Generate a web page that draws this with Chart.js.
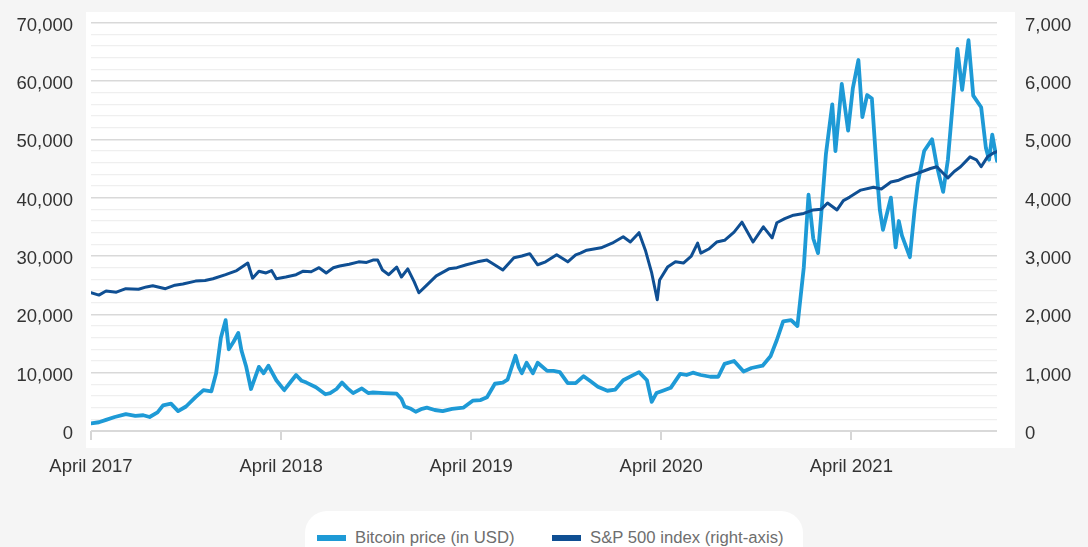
<!DOCTYPE html>
<html>
<head>
<meta charset="utf-8">
<script src="https://cdn.jsdelivr.net/npm/chart.js@4.4.1/dist/chart.umd.min.js"></script>
<style>
  body { margin: 0; background: #f5f5f5; font-family: "Liberation Sans", Arial, sans-serif; }
  #wrap { position: relative; width: 1088px; height: 547px; overflow: hidden; }
  #legend { position: absolute; left: 305px; top: 511px; width: 498px; height: 70px; background: #fff; border-radius: 22px; }
  .sw { position: absolute; top: 24px; width: 29px; height: 6px; }
  .lt { position: absolute; top: 17px; font-size: 16.7px; line-height: 20px; color: #6e6e6e; white-space: nowrap; }
</style>
</head>
<body>
<div id="wrap">
  <canvas id="chart" width="1088" height="547"></canvas>
  <div id="legend"></div>
</div>
<script>
// months counted from 1 April 2017
const btcMonths = [0,0.5,0.95,1.5,2.2,2.8,3.3,3.7,4.2,4.55,5.05,5.5,6,6.6,7.1,7.6,7.9,8.2,8.5,8.7,9,9.3,9.5,9.8,10.1,10.6,10.9,11.2,11.7,12.2,12.6,12.95,13.3,13.6,14.2,14.8,15.1,15.5,15.85,16.2,16.55,17.1,17.5,17.8,18.5,19.3,19.6,19.8,20.2,20.5,20.9,21.2,21.7,22.2,22.8,23.5,24.1,24.6,25,25.5,26,26.3,26.8,27,27.2,27.5,27.9,28.2,28.8,29.2,29.6,30.1,30.6,31.1,31.5,32,32.6,33.1,33.6,34.1,34.6,35.1,35.4,35.7,36.1,36.6,37.2,37.6,38,38.5,39.1,39.6,40,40.6,41.2,41.7,42.4,42.9,43.3,43.7,44.2,44.6,44.8,45,45.3,45.6,45.9,46.1,46.4,46.8,47,47.4,47.8,48.1,48.45,48.7,49,49.3,49.65,49.8,50,50.5,50.8,51,51.2,51.7,52,52.2,52.6,53.1,53.4,53.8,54.1,54.4,54.7,55,55.4,55.7,56.2,56.5,56.7,56.9,57.2];
const btcPrice = [1300,1500,1900,2400,2900,2600,2700,2400,3200,4400,4700,3400,4200,5800,7000,6800,9900,16000,19000,14000,15300,16800,13800,11000,7200,11000,9900,11200,8700,7000,8400,9600,8600,8300,7500,6300,6500,7200,8300,7300,6500,7300,6500,6600,6500,6400,5500,4200,3800,3300,3800,4000,3600,3400,3800,4000,5200,5300,5800,8100,8300,8800,12900,11000,9900,11700,9900,11700,10300,10300,10100,8200,8200,9400,8600,7600,6900,7100,8700,9400,10100,8700,5000,6500,6900,7400,9800,9600,10000,9600,9300,9300,11500,12000,10200,10800,11200,12800,15600,18800,19000,18000,23000,28000,40500,33000,30500,37000,47500,56000,48000,59500,51500,58800,63600,53800,57600,57000,43000,38000,34500,40000,31500,36000,33500,29800,38000,42500,48000,50000,45500,41000,46500,56000,65500,58500,67000,57500,55500,48500,46500,50800,46300];

const spxMonths = [0,0.5,0.95,1.6,2.2,3,3.5,3.9,4.7,5.3,5.8,6.6,7.2,7.7,8.5,9.2,9.9,10.2,10.6,11.05,11.4,11.7,12.3,12.95,13.4,13.9,14.4,14.85,15.3,15.7,16.3,16.9,17.4,17.8,18.1,18.4,18.8,19.3,19.6,20,20.4,20.7,21.2,21.8,22.6,23.1,23.7,24.4,25,25.3,26,26.7,27.2,27.7,28.2,28.7,29.4,30.1,30.6,30.9,31.3,32.2,32.9,33.6,34.05,34.6,35,35.4,35.75,35.9,36.4,36.9,37.4,37.9,38.3,38.5,39,39.5,40,40.6,41.1,41.8,42.45,43,43.3,43.8,44.35,45,45.6,46.1,46.5,47.1,47.5,47.9,48.6,49.4,49.9,50.5,51,51.5,52,52.4,53,53.4,53.8,54.1,54.5,54.9,55.5,55.9,56.2,56.6,57,57.2];
const spxIndex = [2370,2330,2400,2380,2440,2430,2470,2490,2440,2500,2520,2570,2580,2610,2680,2750,2880,2620,2740,2710,2750,2610,2640,2680,2740,2730,2800,2710,2800,2830,2860,2900,2890,2930,2930,2760,2680,2810,2640,2780,2560,2370,2500,2660,2780,2800,2850,2900,2930,2880,2760,2970,3000,3040,2850,2900,3020,2900,3020,3050,3100,3140,3220,3330,3240,3400,3100,2710,2250,2590,2810,2900,2880,3000,3220,3050,3120,3240,3270,3410,3580,3240,3500,3310,3570,3640,3700,3730,3790,3800,3910,3790,3950,4010,4130,4180,4150,4270,4300,4360,4400,4440,4500,4530,4420,4340,4450,4530,4700,4650,4530,4700,4770,4790];

const tickMonths = [0, 12, 24, 36, 48];
const tickLabels = ['April 2017', 'April 2018', 'April 2019', 'April 2020', 'April 2021'];
const seriesNames = ['Bitcoin price (in USD)', 'S&P 500 index (right-axis)'];
const seriesColors = ['#1e9ad6', '#0f4f93'];

const toPoints = (xs, ys) => xs.map((x, i) => ({ x: x, y: ys[i] }));
const fmt = v => v.toLocaleString('en-US');
const axisFont = { family: '"Liberation Sans", Arial, sans-serif', size: 18.5 };

const panel = {
  id: 'panel',
  beforeDraw(chart) {
    const a = chart.chartArea, c = chart.ctx;
    c.save();
    c.fillStyle = '#ffffff';
    c.fillRect(a.left - 5, a.top - 10.7, a.right - a.left + 23, a.bottom - a.top + 27.7);
    c.restore();
  }
};

new Chart(document.getElementById('chart'), {
  type: 'line',
  data: {
    datasets: [{
      label: seriesNames[0],
      data: toPoints(btcMonths, btcPrice),
      borderColor: seriesColors[0],
      borderWidth: 3.8,
      yAxisID: 'y',
      order: 2
    }, {
      label: seriesNames[1],
      data: toPoints(spxMonths, spxIndex),
      borderColor: seriesColors[1],
      borderWidth: 3,
      yAxisID: 'y2',
      order: 1
    }]
  },
  options: {
    responsive: false,
    animation: false,
    parsing: false,
    layout: { padding: { top: 22.7, left: 0, right: 0, bottom: 0 } },
    elements: { point: { radius: 0 }, line: { tension: 0, borderJoinStyle: 'round', borderCapStyle: 'round' } },
    plugins: { legend: { display: false }, tooltip: { enabled: false } },
    scales: {
      x: {
        type: 'linear',
        min: 0,
        max: 57.2,
        afterBuildTicks: s => { s.ticks = tickMonths.map(v => ({ value: v })); },
        afterFit: s => { s.height = 116; },
        ticks: {
          autoSkip: false,
          maxRotation: 0,
          padding: 16,
          color: '#333',
          font: axisFont,
          callback: (v) => tickLabels[tickMonths.indexOf(v)]
        },
        grid: { drawOnChartArea: false, drawTicks: true, tickLength: 9, color: '#d6d6d6', lineWidth: 2 },
        border: { display: false }
      },
      y: {
        position: 'left',
        min: 0,
        max: 70000,
        afterFit: s => { s.width = 91; },
        ticks: {
          stepSize: 2000,
          autoSkip: false,
          padding: 4,
          labelOffset: 3,
          color: '#333',
          font: axisFont,
          callback: v => (v % 10000 === 0 ? fmt(v) : '')
        },
        grid: {
          drawTicks: true,
          tickLength: 14,
          tickColor: 'rgba(0,0,0,0)',
          color: c => (c.tick.value % 10000 === 0 ? '#d9d9d9' : '#efefef'),
          lineWidth: c => (c.tick.value === 0 ? 2 : (c.tick.value % 10000 === 0 ? 1.5 : 1.2))
        },
        border: { display: false }
      },
      y2: {
        position: 'right',
        min: 0,
        max: 7000,
        afterFit: s => { s.width = 91; },
        ticks: {
          stepSize: 1000,
          padding: 4,
          labelOffset: 3,
          color: '#333',
          font: axisFont,
          callback: v => fmt(v)
        },
        grid: { drawOnChartArea: false, drawTicks: true, tickLength: 24, tickColor: 'rgba(0,0,0,0)' },
        border: { display: false }
      }
    }
  },
  plugins: [panel]
});

// legend
const legend = document.getElementById('legend');
const swatchX = [12, 247];
const textX = [50, 285];
seriesNames.forEach((name, i) => {
  const sw = document.createElement('span');
  sw.className = 'sw';
  sw.style.left = swatchX[i] + 'px';
  sw.style.background = seriesColors[i];
  const t = document.createElement('span');
  t.className = 'lt';
  t.style.left = textX[i] + 'px';
  t.textContent = name;
  legend.appendChild(sw);
  legend.appendChild(t);
});
</script>
</body>
</html>
